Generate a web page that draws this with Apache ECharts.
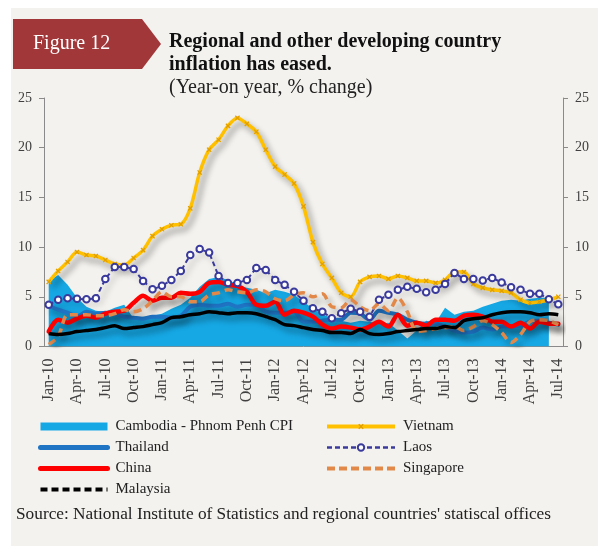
<!DOCTYPE html>
<html>
<head>
<meta charset="utf-8">
<script src="https://cdn.jsdelivr.net/npm/echarts@6/dist/echarts.min.js"></script>
<style>
html, body { margin: 0; padding: 0; background: #fff; }
#chart { width: 603px; height: 546px; }
</style>
</head>
<body>
<div id="chart"></div>
<script>
// categories: Jan-10 .. Jul-14
const monthNames = ['Jan', 'Feb', 'Mar', 'Apr', 'May', 'Jun', 'Jul', 'Aug', 'Sep', 'Oct', 'Nov', 'Dec'];
const years = ['10', '11', '12', '13', '14'];
const months = [];
years.forEach(y => monthNames.forEach(m => months.push(m + '-' + y)));
months.length = 55;

const cambodia = [6.6, 7.2, 6.2, 4.9, 4.0, 3.6, 3.5, 3.9, 4.2, 2.8, 3.0, 3.1, 3.3, 3.8, 4.2, 4.9, 6.0, 6.8, 7.0, 6.7,
  6.2, 5.9, 5.7, 5.35, 5.7, 5.5, 5.2, 4.5, 3.8, 3.3, 2.8, 2.6, 2.4, 2.6, 2.5, 2.3, 2.4, 1.6, 0.8, 1.6,
  2.6, 2.4, 3.9, 3.2, 3.5, 3.6, 4.0, 4.3, 4.6, 4.7, 4.6, 4.8, 4.9, 4.9, null];
const vietnam = [6.5, 7.6, 8.5, 9.5, 9.2, 9.1, 8.7, 8.3, 8.2, 8.9, 9.7, 11.1, 11.8, 12.2, 12.3, 13.9, 17.5, 19.8, 20.8, 22.2,
  23.0, 22.4, 21.6, 19.8, 18.1, 17.3, 16.4, 14.1, 10.5, 8.3, 6.9, 5.4, 5.0, 6.5, 7.0, 7.1, 6.8, 7.1, 6.9, 6.6,
  6.6, 6.4, 6.7, 7.5, 7.5, 6.3, 5.9, 5.7, 5.6, 5.4, 4.7, 4.4, 4.5, 4.7, 5.0];
const thailand = [4.1, 3.7, 3.4, 3.0, 3.5, 3.3, 3.4, 3.3, 3.0, 2.9, 2.8, 3.0, 3.0, 2.9, 3.1, 4.0, 4.2, 4.1, 4.1, 4.3,
  4.0, 4.2, 4.2, 3.5, 3.4, 3.4, 3.5, 2.5, 2.5, 2.6, 2.7, 2.7, 3.4, 3.3, 2.7, 3.6, 3.4, 3.2, 2.7, 2.4,
  2.3, 2.3, 2.0, 1.6, 1.4, 1.5, 1.9, 1.7, 2.0, 2.0, 2.1, 2.5, 2.6, 2.4, 2.2];
const laos = [4.2, 4.7, 4.85, 4.8, 4.75, 4.85, 6.8, 8.0, 8.0, 7.8, 6.6, 5.75, 6.1, 6.7, 7.6, 9.2, 9.8, 9.45, 7.1, 6.4,
  6.4, 6.7, 7.9, 7.7, 6.7, 6.2, 5.5, 4.6, 3.85, 3.5, 2.85, 3.35, 3.8, 3.5, 3.0, 4.7, 5.2, 5.7, 6.0, 5.8,
  5.45, 5.7, 6.3, 7.4, 6.8, 6.8, 6.65, 6.9, 6.45, 5.95, 5.7, 5.3, 5.3, 4.75, 4.25];
const china = [1.5, 2.7, 2.4, 2.8, 3.1, 2.9, 3.3, 3.5, 3.6, 4.4, 5.1, 4.6, 4.9, 4.9, 5.4, 5.3, 5.5, 6.4, 6.5, 6.2,
  6.1, 5.5, 4.2, 4.1, 4.5, 3.2, 3.6, 3.4, 3.0, 2.2, 1.8, 2.0, 1.9, 1.7, 2.0, 2.5, 2.0, 3.2, 2.1, 2.4,
  2.1, 2.7, 2.7, 2.6, 3.1, 3.2, 3.0, 2.5, 2.5, 2.0, 2.4, 1.8, 2.5, 2.3, 2.3];
const singapore = [0.2, 1.0, 3.2, 3.2, 3.2, 3.1, 3.1, 3.3, 3.7, 3.5, 3.8, 4.6, 5.5, 5.0, 5.0, 4.5, 4.5, 5.2, 5.4, 5.7,
  5.5, 5.4, 5.7, 5.5, 4.8, 4.6, 5.2, 5.4, 5.0, 5.3, 4.0, 3.9, 4.7, 4.0, 3.6, 4.3, 3.6, 4.9, 3.5, 1.5,
  1.6, 1.8, 1.9, 2.0, 1.6, 2.0, 2.6, 2.2, 1.4, 0.4, 1.2, 2.5, 2.7, 2.6, 2.2];
const malaysia = [1.3, 1.2, 1.3, 1.5, 1.6, 1.7, 1.9, 2.1, 1.8, 1.9, 2.0, 2.2, 2.4, 2.9, 3.0, 3.2, 3.3, 3.5, 3.4, 3.3,
  3.4, 3.4, 3.3, 3.0, 2.7, 2.2, 2.1, 1.9, 1.7, 1.6, 1.4, 1.4, 1.3, 1.7, 1.3, 1.2, 1.3, 1.5, 1.6, 1.7,
  1.8, 1.8, 2.0, 1.9, 2.6, 2.8, 2.9, 3.2, 3.4, 3.5, 3.5, 3.4, 3.2, 3.3, 3.2];

const serif = '"Liberation Serif", "DejaVu Serif", serif';
const shadow = { shadowColor: 'rgba(0,0,0,0.4)', shadowBlur: 6, shadowOffsetX: 4, shadowOffsetY: 5 };
const noDot = { opacity: 0 };

const chart = echarts.init(document.getElementById('chart'));

const yAxisBase = {
  type: 'value',
  min: 0,
  max: 25,
  interval: 5,
  splitLine: { show: false },
  axisLine: { show: true, lineStyle: { color: '#8a8a8a' } },
  axisTick: { show: true, length: 5, lineStyle: { color: '#8a8a8a' } },
  axisLabel: { color: '#404040', fontFamily: serif, fontSize: 14, margin: 12 }
};

const legendText = { fontFamily: serif, fontSize: 15, color: '#222', padding: [0, 0, 0, 3] };

const option = {
  backgroundColor: '#fff',
  animation: false,
  graphic: [
    { type: 'rect', z: -10, silent: true, shape: { x: 11, y: 8, width: 587, height: 538 }, style: { fill: '#F4F2EE' } },
    { type: 'polygon', shape: { points: [[13, 19], [142, 19], [161, 44], [142, 69], [13, 69]] }, style: { fill: '#A2373A' } },
    { type: 'text', x: 33, y: 44, style: { text: 'Figure 12', fill: '#fff', font: '20px ' + serif, textVerticalAlign: 'middle' } },
    { type: 'text', x: 169, y: 42, style: { text: 'Regional and other developing country', fill: '#111', font: 'bold 20px ' + serif, textVerticalAlign: 'middle' } },
    { type: 'text', x: 169, y: 65, style: { text: 'inflation has eased.', fill: '#111', font: 'bold 20px ' + serif, textVerticalAlign: 'middle' } },
    { type: 'text', x: 169, y: 88, style: { text: '(Year-on year, % change)', fill: '#222', font: '20px ' + serif, textVerticalAlign: 'middle' } },
    { type: 'text', x: 16, y: 514, style: { text: "Source: National Institute of Statistics and regional countries' statiscal offices", fill: '#222', font: '17.3px ' + serif, textVerticalAlign: 'middle' } }
  ],
  legend: [
    {
      left: 33, top: 414, orient: 'vertical', itemWidth: 67, itemHeight: 8, itemGap: 6,
      textStyle: legendText,
      data: [
        { name: 'Cambodia - Phnom Penh CPI', icon: 'rect' },
        { name: 'Thailand', itemStyle: noDot, lineStyle: { width: 5, cap: 'round' } },
        { name: 'China', itemStyle: noDot, lineStyle: { width: 5, cap: 'round' } },
        { name: 'Malaysia', itemStyle: noDot, lineStyle: { width: 4, type: [7, 4] } }
      ]
    },
    {
      left: 320, top: 414, orient: 'vertical', itemWidth: 68, itemHeight: 8, itemGap: 6,
      textStyle: legendText,
      data: [
        { name: 'Vietnam', lineStyle: { width: 4 } },
        { name: 'Laos', lineStyle: { width: 2.5 } },
        { name: 'Singapore', itemStyle: noDot, lineStyle: { width: 4, type: [8, 4] } }
      ]
    }
  ],
  grid: { left: 44, right: 40, top: 98, bottom: 199.5 },
  xAxis: {
    type: 'category',
    data: months,
    boundaryGap: true,
    axisLine: { lineStyle: { color: '#8a8a8a' } },
    axisTick: { interval: 2, length: 5, lineStyle: { color: '#8a8a8a' } },
    axisLabel: { interval: 2, rotate: 90, color: '#404040', fontFamily: serif, fontSize: 16, margin: 12 }
  },
  yAxis: [
    Object.assign({}, yAxisBase, { position: 'left' }),
    Object.assign({}, yAxisBase, { position: 'right' })
  ],
  series: [
    {
      name: 'Cambodia - Phnom Penh CPI', type: 'line', data: cambodia, showSymbol: false, symbol: 'none',
      itemStyle: { color: '#16A8E5' }, lineStyle: { width: 0 }, areaStyle: { color: '#16A8E5', opacity: 1 }
    },
    {
      name: 'Vietnam', type: 'line', data: vietnam, smooth: 0.3, showAllSymbol: true,
      symbol: 'path://M4,0H6V4H10V6H6V10H4V6H0V4H4Z', symbolSize: 6, symbolRotate: 45,
      itemStyle: { color: '#E09E00' },
      lineStyle: Object.assign({ width: 3.5, color: '#FFC000' }, shadow)
    },
    {
      name: 'Thailand', type: 'line', data: thailand, smooth: 0.3, symbol: 'none',
      itemStyle: { color: '#1F74C4' },
      lineStyle: Object.assign({ width: 4, color: '#1F74C4', cap: 'round' }, shadow)
    },
    {
      name: 'Laos', type: 'line', data: laos, symbol: 'emptyCircle', symbolSize: 6.5, showAllSymbol: true,
      itemStyle: { color: '#3A3A9C', borderWidth: 2 },
      lineStyle: Object.assign({ width: 2, color: '#3A3A9C', type: [5, 3] }, shadow)
    },
    {
      name: 'China', type: 'line', data: china, smooth: 0.3, symbol: 'none',
      itemStyle: { color: '#FF0000' },
      lineStyle: Object.assign({ width: 4.5, color: '#FF0000', cap: 'round' }, shadow)
    },
    {
      name: 'Singapore', type: 'line', data: singapore, smooth: 0.3, symbol: 'none',
      itemStyle: { color: '#E2894A' },
      lineStyle: Object.assign({ width: 3.5, color: '#E2894A', type: [8, 5] }, shadow)
    },
    {
      name: 'Malaysia', type: 'line', data: malaysia, smooth: 0.3, symbol: 'none',
      itemStyle: { color: '#000' },
      lineStyle: Object.assign({ width: 3.5, color: '#000' }, shadow)
    }
  ]
};

chart.setOption(option);
</script>
</body>
</html>
